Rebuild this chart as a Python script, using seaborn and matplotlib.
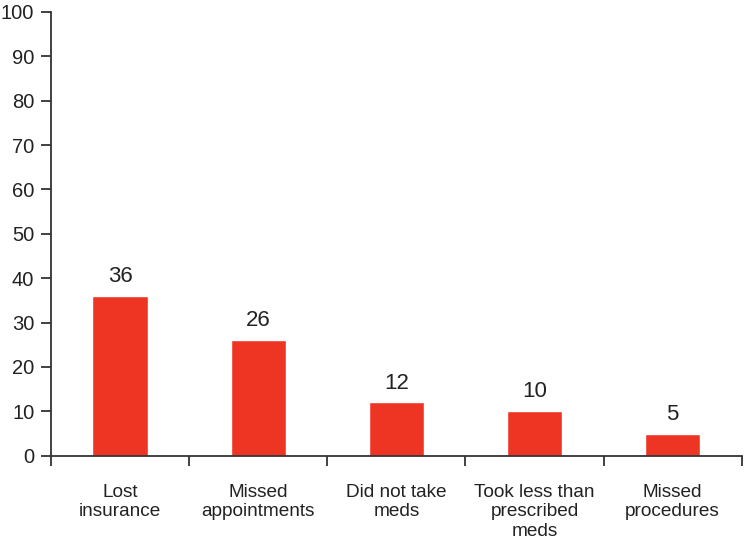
import matplotlib
matplotlib.use("Agg")
import matplotlib.pyplot as plt
import seaborn as sns
import pandas as pd

categories = ["Lost\ninsurance", "Missed\nappointments", "Did not take\nmeds",
              "Took less than\nprescribed\nmeds", "Missed\nprocedures"]
values = [36, 26, 12, 10, 5]
bar_color = "#EE3524"

sns.set_style("white")
plt.rcParams['font.family'] = ['Liberation Sans', 'DejaVu Sans']

df = pd.DataFrame({"category": categories, "value": values})

fig = plt.figure(figsize=(7.5, 5.4), dpi=100)
ax = fig.add_axes([0.068, 0.156, 0.921, 0.822])
sns.barplot(data=df, x="category", y="value", color=bar_color, width=0.4,
            saturation=1, ax=ax)

for i, v in enumerate(values):
    ax.text(i, v + 2.0, str(v), ha="center", va="bottom", fontsize=16, color="#222222")

ax.set_xlim(-0.5, len(categories) - 0.5)
ax.set_ylim(0, 100)
ax.set_yticks(range(0, 101, 10))
ax.set_xticks([i - 0.5 for i in range(len(categories) + 1)], minor=False)
ax.set_xticklabels([])
ax.set_xticks(range(len(categories)), minor=True)
ax.set_xticklabels(categories, minor=True)
ax.tick_params(axis="x", which="minor", bottom=False, length=0, pad=20,
               labelsize=13.7, labelcolor="#222222")
ax.tick_params(axis="x", which="major", bottom=True, length=7, width=1.3,
               color="#333333", direction="out")
ax.tick_params(axis="y", left=True, length=7, width=1.3, color="#333333", labelsize=14.5,
               labelcolor="#222222", pad=5, direction="out")
ax.set_xlabel("")
ax.set_ylabel("")
sns.despine(ax=ax)
for s in ["left", "bottom"]:
    ax.spines[s].set_color("#333333")
    ax.spines[s].set_linewidth(1.3)

fig.savefig("out.png", dpi=100)
